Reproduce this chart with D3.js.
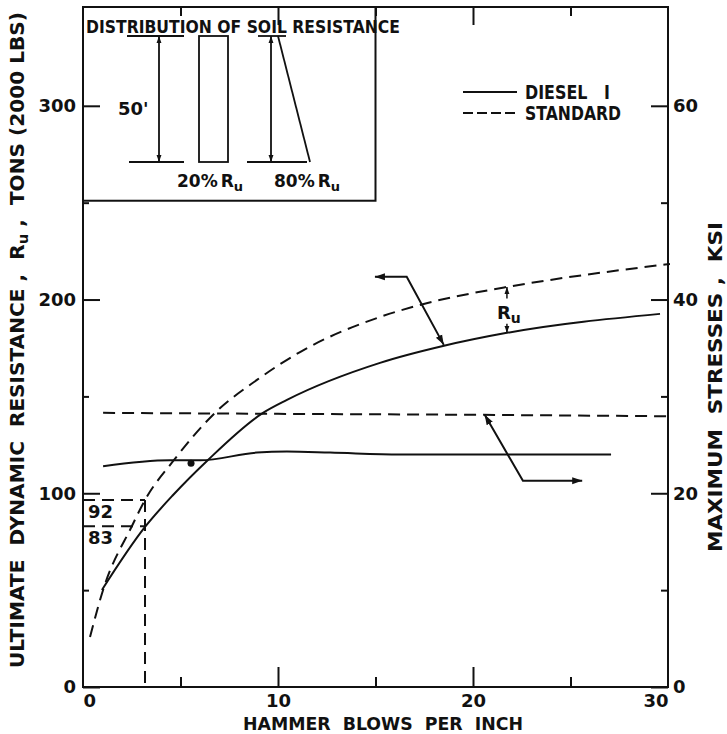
<!DOCTYPE html>
<html lang="en">
<head>
<meta charset="UTF-8">
<title>Ultimate dynamic resistance vs hammer blows</title>
<script src="https://d3js.org/d3.v7.min.js"></script>
<style>
  body { margin: 0; background: #fff; }
  svg text { font-family: "DejaVu Sans", sans-serif; font-weight: bold; fill: #111; }
  .axis path { display: none; }
  .axis line { stroke: #111; stroke-width: 2; }
  .axis text { font-size: 18px; font-weight: bold; fill: #111; }
</style>
</head>
<body>
<svg width="727" height="734"></svg>
<script>
    // axis ticks
    const blowTicks = [0, 10, 20, 30];
    const blowMinor = [5, 15, 25];
    const tonTicks = [0, 100, 200, 300];
    const tonMinor = [50, 150, 250];
    const ksiTicks = [0, 20, 40, 60];
    const ksiMinor = [10, 30, 50];

    // ultimate dynamic resistance Ru (tons)
    const dieselRuBlows = [0.97, 3.18, 4.62, 6.41, 9.23, 10.46, 15.23, 18.46, 21.74, 29.59];
    const dieselRuTons = [50.1, 82.6, 99.1, 117.2, 141.5, 148.2, 167.3, 176.0, 182.8, 192.6];
    const standardRuBlows = [0.36, 1.03, 2.51, 3.18, 4.67, 6.77, 8.92, 11.13, 15.23, 17.28, 21.74, 23.95, 30.1];
    const standardRuTons = [25.8, 50.1, 83.1, 96.5, 117.2, 141.5, 158.5, 172.9, 191.0, 197.2, 206.5, 210.1, 218.4];

    // maximum stresses (ksi)
    const dieselKsiBlows = [1.03, 4.46, 6.0, 8.92, 10.46, 12.67, 16.26, 27.08];
    const dieselKsi = [22.8, 23.4, 23.4, 24.2, 24.3, 24.2, 24.0, 24.0];
    const standardKsiBlows = [1.03, 10, 20, 30];
    const standardKsi = [28.3, 28.2, 28.1, 27.95];

    // read-off at about 3 blows per inch
    const readBlows = 3.18;
    const readTons = [96.5, 83];
    const readLabels = ["92", "83"];

    const svg = d3.select("svg");
    const ink = "#111";

    const x = d3.scaleLinear().domain([0, 30]).range([83, 668]);
    const yL = d3.scaleLinear().domain([0, 351]).range([687, 7]);
    const yR = d3.scaleLinear().domain([0, 70.2]).range([687, 7]);

    const defs = svg.append("defs");
    const addHead = (id, size) => defs.append("marker")
        .attr("id", id)
        .attr("viewBox", "0 0 10 10")
        .attr("refX", 10).attr("refY", 5)
        .attr("markerWidth", size).attr("markerHeight", size)
        .attr("markerUnits", "userSpaceOnUse")
        .attr("orient", "auto-start-reverse")
        .append("path")
        .attr("d", "M0,1.5 L10,5 L0,8.5 Z")
        .attr("fill", ink);
    addHead("head", 10);
    addHead("headSmall", 7);

    // inset box: distribution of soil resistance (drawn first, top ticks show through)
    const bx = x(0), by = yL(351);
    svg.append("rect").attr("x", bx).attr("y", by)
        .attr("width", x(15) - x(0)).attr("height", yL(251) - yL(351))
        .attr("fill", "none").attr("stroke", ink).attr("stroke-width", 2);

    // frame
    svg.append("rect")
        .attr("x", x(0)).attr("y", yL(351))
        .attr("width", x(30) - x(0)).attr("height", yL(0) - yL(351))
        .attr("fill", "none").attr("stroke", ink).attr("stroke-width", 2);

    // axes (ticks point inward)
    const left = svg.append("g").attr("class", "axis").attr("transform", `translate(${x(0)},0)`);
    left.call(d3.axisLeft(yL).tickValues(tonTicks).tickSizeInner(-17).tickSizeOuter(0).tickPadding(7));
    svg.append("g").attr("class", "axis").attr("transform", `translate(${x(0)},0)`)
        .call(d3.axisLeft(yL).tickValues(tonMinor).tickSizeInner(-6).tickSizeOuter(0).tickFormat(""));

    const right = svg.append("g").attr("class", "axis").attr("transform", `translate(${x(30)},0)`);
    right.call(d3.axisRight(yR).tickValues(ksiTicks).tickSizeInner(-17).tickSizeOuter(0).tickPadding(5));
    svg.append("g").attr("class", "axis").attr("transform", `translate(${x(30)},0)`)
        .call(d3.axisRight(yR).tickValues(ksiMinor).tickSizeInner(-7).tickSizeOuter(0).tickFormat(""));

    const bottom = svg.append("g").attr("class", "axis").attr("transform", `translate(0,${yL(0)})`);
    bottom.call(d3.axisBottom(x).tickValues(blowTicks).tickSizeInner(-20).tickSizeOuter(0).tickPadding(7));
    bottom.selectAll(".tick text")
        .attr("text-anchor", d => d === 0 ? "start" : d === 30 ? "end" : "middle");
    bottom.selectAll(".tick line").filter(d => d === 0 || d === 30).remove();
    svg.append("g").attr("class", "axis").attr("transform", `translate(0,${yL(0)})`)
        .call(d3.axisBottom(x).tickValues(blowMinor).tickSizeInner(-10).tickSizeOuter(0).tickFormat(""));

    svg.append("g").attr("class", "axis").attr("transform", `translate(0,${yL(351)})`)
        .call(d3.axisTop(x).tickValues([10, 20]).tickSizeInner(-18).tickSizeOuter(0).tickFormat(""));
    svg.append("g").attr("class", "axis").attr("transform", `translate(0,${yL(351)})`)
        .call(d3.axisTop(x).tickValues(blowMinor).tickSizeInner(-9).tickSizeOuter(0).tickFormat(""));

    // curves
    const zip = (xs, ys) => xs.map((v, i) => [v, ys[i]]);
    const lineL = d3.line().x(d => x(d[0])).y(d => yL(d[1])).curve(d3.curveMonotoneX);
    const lineR = d3.line().x(d => x(d[0])).y(d => yR(d[1])).curve(d3.curveMonotoneX);
    const dash = "12,7";

    const curve = (d, gen, dashed) => svg.append("path")
        .attr("d", gen(d))
        .attr("fill", "none").attr("stroke", ink).attr("stroke-width", 2)
        .attr("stroke-dasharray", dashed ? dash : null);

    curve(zip(dieselRuBlows, dieselRuTons), lineL, false);
    curve(zip(standardRuBlows, standardRuTons), lineL, true);
    curve(zip(dieselKsiBlows, dieselKsi), lineR, false);
    curve(zip(standardKsiBlows, standardKsi), lineR, true);

    svg.append("circle").attr("cx", x(5.54)).attr("cy", yR(23.1)).attr("r", 3.5).attr("fill", ink);

    // read-off lines
    const straight = d3.line().x(d => x(d[0])).y(d => yL(d[1]));
    svg.append("path").attr("d", straight([[readBlows, readTons[0]], [readBlows, 0]]))
        .attr("stroke", ink).attr("stroke-width", 2).attr("stroke-dasharray", dash).attr("fill", "none");
    readTons.forEach((t, i) => {
        svg.append("path").attr("d", straight([[0, t], [readBlows, t]]))
            .attr("stroke", ink).attr("stroke-width", 2).attr("stroke-dasharray", dash).attr("fill", "none");
        svg.append("text").attr("x", x(0) + 5).attr("y", yL(t) + 18)
            .attr("font-size", 18).text(readLabels[i]);
    });

    // pointer arrows
    const arrow = (pts, gen, start) => svg.append("path")
        .attr("d", d3.line().x(d => x(d[0])).y(d => gen(d[1]))(pts))
        .attr("fill", "none").attr("stroke", ink).attr("stroke-width", 2)
        .attr("marker-start", start ? "url(#head)" : null)
        .attr("marker-end", "url(#head)");
    arrow([[14.97, 211.7], [16.6, 211.7], [18.5, 176.6]], yL, true);
    arrow([[20.6, 28.1], [22.56, 21.3], [25.6, 21.3]], yR, true);

    // Ru dimension between the two curves
    const ruX = 21.74;
    svg.append("line").attr("x1", x(ruX)).attr("x2", x(ruX))
        .attr("y1", yL(200.5)).attr("y2", yL(206.5))
        .attr("stroke", ink).attr("stroke-width", 1.5).attr("marker-end", "url(#headSmall)");
    svg.append("line").attr("x1", x(ruX)).attr("x2", x(ruX))
        .attr("y1", yL(187.5)).attr("y2", yL(182.8))
        .attr("stroke", ink).attr("stroke-width", 1.5).attr("marker-end", "url(#headSmall)");
    const ruLabel = svg.append("text").attr("x", x(ruX) - 10).attr("y", yL(190))
        .attr("font-size", 18);
    ruLabel.append("tspan").text("R");
    ruLabel.append("tspan").attr("dy", 4).attr("font-size", 14).text("u");

    // legend
    const legend = svg.append("g");
    [["DIESEL\u00a0\u00a0\u00a0I", null, 92, 85], ["STANDARD", "10,4", 113, 96]].forEach(([label, da, ly, tl]) => {
        legend.append("line").attr("x1", 463).attr("x2", 517).attr("y1", ly).attr("y2", ly)
            .attr("stroke", ink).attr("stroke-width", 2).attr("stroke-dasharray", da);
        legend.append("text").attr("x", 525).attr("y", ly + 7)
            .attr("font-size", 19).attr("textLength", tl).attr("lengthAdjust", "spacingAndGlyphs")
            .text(label);
    });

    // inset contents
    const inset = svg.append("g").attr("transform", `translate(${bx},${by})`);
    inset.append("text").attr("x", 3).attr("y", 26)
        .attr("font-size", 17.5).attr("textLength", 314).attr("lengthAdjust", "spacingAndGlyphs")
        .text("DISTRIBUTION OF SOIL RESISTANCE");
    const seg = (x1, y1, x2, y2) => inset.append("line")
        .attr("x1", x1).attr("y1", y1).attr("x2", x2).attr("y2", y2)
        .attr("stroke", ink).attr("stroke-width", 1.8);
    seg(44, 29, 101, 29);
    seg(46, 155, 101, 155);
    seg(76, 29, 76, 155).attr("marker-start", "url(#headSmall)").attr("marker-end", "url(#headSmall)");
    inset.append("rect").attr("x", 116).attr("y", 29).attr("width", 29).attr("height", 126)
        .attr("fill", "none").attr("stroke", ink).attr("stroke-width", 1.8);
    seg(175, 29, 203, 29);
    seg(164, 155, 224, 155);
    seg(188, 29, 188, 155).attr("marker-start", "url(#headSmall)").attr("marker-end", "url(#headSmall)");
    seg(195, 29, 227, 155);
    inset.append("text").attr("x", 35).attr("y", 108).attr("font-size", 18).text("50'");
    [["20%", 94], ["80%", 191]].forEach(([p, px]) => {
        const t = inset.append("text").attr("x", px).attr("y", 180).attr("font-size", 17);
        t.append("tspan").text(p);
        t.append("tspan").attr("dx", 3).text("R");
        t.append("tspan").attr("dy", 4).attr("font-size", 13).text("u");
    });

    // axis titles
    const leftTitle = svg.append("text")
        .attr("transform", "translate(24,340) rotate(-90)")
        .attr("text-anchor", "middle").attr("font-size", 19)
        .attr("textLength", 656).attr("lengthAdjust", "spacingAndGlyphs");
    leftTitle.append("tspan").text("ULTIMATE\u00a0\u00a0DYNAMIC\u00a0\u00a0RESISTANCE\u00a0,\u00a0\u00a0R");
    leftTitle.append("tspan").attr("dy", 4).attr("font-size", 14).text("u");
    leftTitle.append("tspan").attr("dy", -4).text("\u00a0,\u00a0\u00a0TONS (2000 LBS)");

    svg.append("text")
        .attr("transform", "translate(722,387) rotate(-90)")
        .attr("text-anchor", "middle").attr("font-size", 19)
        .attr("textLength", 330).attr("lengthAdjust", "spacingAndGlyphs")
        .text("MAXIMUM\u00a0\u00a0STRESSES\u00a0,\u00a0\u00a0KSI");

    svg.append("text")
        .attr("x", 383).attr("y", 730)
        .attr("text-anchor", "middle").attr("font-size", 18)
        .attr("textLength", 280).attr("lengthAdjust", "spacingAndGlyphs")
        .text("HAMMER\u00a0\u00a0BLOWS\u00a0\u00a0PER\u00a0\u00a0INCH");
</script>
</body>
</html>
